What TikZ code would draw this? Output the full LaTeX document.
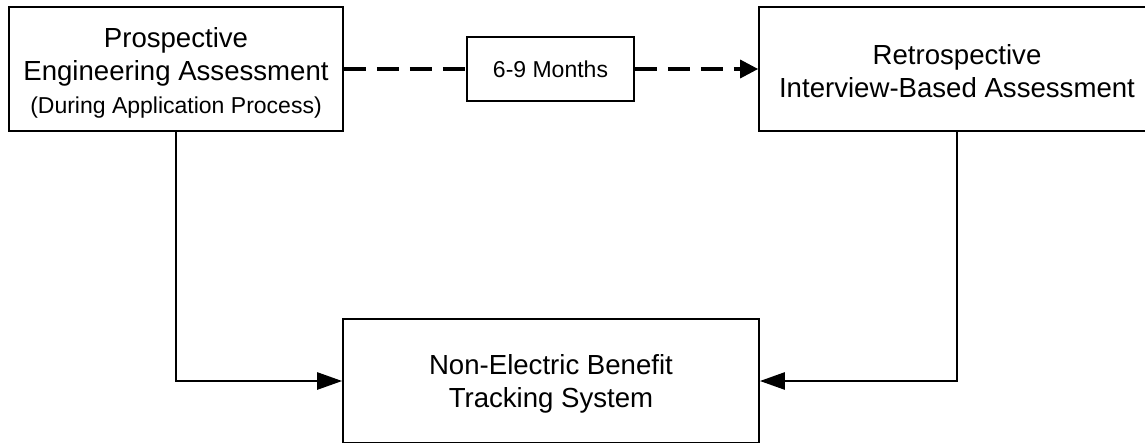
\documentclass[tikz,border=0pt]{standalone}
\usepackage{fontspec}
\setmainfont{Liberation Sans}
\usepackage{xcolor}
\usepackage{tikz}
\usetikzlibrary{arrows.meta}
\newcommand{\bigtxt}{\fontsize{27.6}{33}\selectfont}
\newcommand{\smalltxt}{\fontsize{23}{31}\selectfont}

\begin{document}
\begin{tikzpicture}[x=1pt, y=-1pt,
    box/.style={draw, line width=1.7pt, align=center, inner sep=0pt, font=\bigtxt},
    link/.style={line width=2.6pt, -{Triangle[length=25pt, width=17pt]}},
    dashlink/.style={line width=3.4pt, dash pattern=on 22pt off 11pt}]
    \clip (0, 0) rectangle (1145, 442);

    % Assessments (top row)
    \node[box, minimum width=334pt, minimum height=124pt] (pros) at (176, 69)
        {\rule{0pt}{28pt}Prospective\\Engineering Assessment\\\smalltxt (During Application Process)};
    \node[box, minimum width=396pt, minimum height=124pt] (retro) at (957, 69)
        {\rule{0pt}{24pt}Retrospective\\Interview-Based Assessment};

    % Delay between the two
    \node[box, font=\smalltxt, minimum width=167pt, minimum height=64pt] (delay) at (550.5, 69)
        {6-9 Months};
    \draw[dashlink] (pros.east) -- (delay.west);
    \draw[dashlink, -{Triangle[length=18pt, width=18pt]}] (delay.east) -- (retro.west);

    % Tracking system
    \node[box, minimum width=416pt, minimum height=124pt] (track) at (551, 381)
        {\rule{0pt}{26pt}Non-Electric Benefit\\Tracking System};
    \draw[link] (pros.south) |- (track.west);
    \draw[link] (retro.south) |- (track.east);
\end{tikzpicture}
\end{document}
